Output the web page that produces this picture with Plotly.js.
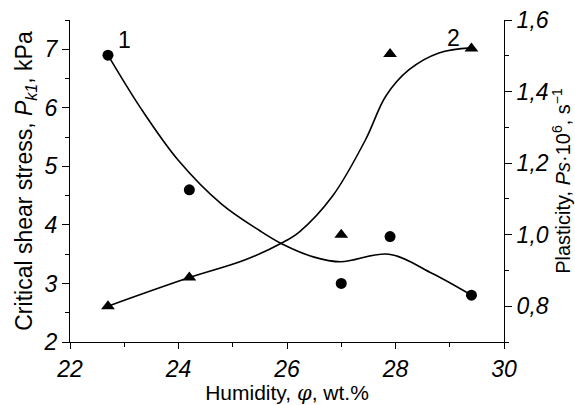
<!DOCTYPE html>
<html><head><meta charset="utf-8">
<script src="https://cdn.plot.ly/plotly-3.0.1.min.js"></script>
<style>html,body{margin:0;padding:0;background:#fff}#chart{width:575px;height:405px}</style>
</head><body><div id="chart"></div>
<script>
// Measured data
const humidity = [22.7, 24.2, 27.0, 27.9, 29.4];
const shearStress = [6.9, 4.6, 3.0, 3.8, 2.8];        // series 1, kPa (left axis)
const plasticity = [0.80, 0.88, 1.00, 1.505, 1.52];  // series 2, Ps*10^6 s^-1 (right axis)
// Fitted curves
const fit1X = [22.7, 23.3, 24.0, 24.8, 25.5, 25.92, 26.5, 26.99, 27.88, 28.68, 29.4];
const fit1Y = [6.9, 6.0, 5.1, 4.35, 3.9, 3.67, 3.45, 3.37, 3.50, 3.17, 2.8];
const fit2X = [22.7, 24.2, 25.22, 25.92, 26.23, 26.84, 27.45, 27.82, 28.25, 28.8, 29.4];
const fit2Y = [0.80, 0.88, 0.929, 0.978, 1.008, 1.108, 1.266, 1.387, 1.461, 1.508, 1.522];
const xTicks = [22, 24, 26, 28, 30];
const curveLabels = ['1', '2'];

const FONT = 'Liberation Sans, Arial, sans-serif';
const traces = [
  {x: fit1X, y: fit1Y, mode: 'lines', line: {color: '#000', width: 1.6, shape: 'spline', smoothing: 1}, yaxis: 'y', hoverinfo: 'skip'},
  {x: fit2X, y: fit2Y, mode: 'lines', line: {color: '#000', width: 1.6, shape: 'spline', smoothing: 1}, yaxis: 'y2', hoverinfo: 'skip'},
  {x: humidity, y: shearStress, mode: 'markers', marker: {symbol: 'circle', size: 11, color: '#000'}, yaxis: 'y'},
  {x: humidity, y: plasticity, mode: 'markers', marker: {symbol: 'triangle-up', size: 12, color: '#000'}, yaxis: 'y2'}
];
const tickFont = {family: FONT, size: 23, color: '#000', style: 'italic'};
const layout = {
  width: 575, height: 405,
  margin: {l: 70, r: 71, t: 20, b: 63},
  paper_bgcolor: '#fff', plot_bgcolor: '#fff',
  showlegend: false,
  separators: ', ',
  xaxis: {
    range: [22, 30], tickvals: xTicks, ticktext: xTicks.map(String),
    showline: true, linecolor: '#000', linewidth: 1, showgrid: false, zeroline: false,
    ticks: 'outside', ticklen: 6, tickcolor: '#000', tickfont: tickFont,
    minor: {dtick: 1, tick0: 22, ticks: 'outside', ticklen: 4, tickcolor: '#000'},
    title: {text: 'Humidity, <span style="font-family:DejaVu Serif"><i>φ</i></span>, wt.%', font: {family: FONT, size: 21, color: '#000'}, standoff: 3}
  },
  yaxis: {
    range: [2, 7.5], dtick: 1, tick0: 2,
    showline: true, linecolor: '#000', linewidth: 1, showgrid: false, zeroline: false,
    ticks: 'outside', ticklen: 7, tickcolor: '#000', tickfont: tickFont,
    minor: {dtick: 0.5, tick0: 2, ticks: 'outside', ticklen: 4, tickcolor: '#000'},
    title: {text: 'Critical shear stress, <i>P</i><sub><i>k1</i></sub>, kPa', font: {family: FONT, size: 23, color: '#000'}, standoff: 4}
  },
  yaxis2: {
    range: [0.7, 1.6], dtick: 0.2, tick0: 0, tickformat: '.1f', overlaying: 'y', side: 'right',
    showline: true, linecolor: '#000', linewidth: 1, showgrid: false, zeroline: false,
    ticks: 'outside', ticklen: 7, tickcolor: '#000', tickfont: tickFont,
    minor: {dtick: 0.1, tick0: 0, ticks: 'outside', ticklen: 4, tickcolor: '#000'},
    title: {text: 'Plasticity, <i>Ps</i>·10<sup>6</sup>, s<sup>−1</sup>', font: {family: FONT, size: 20, color: '#000'}, standoff: 6}
  },
  annotations: [
    {x: 23.01, y: 7.16, xref: 'x', yref: 'y', text: curveLabels[0], showarrow: false, font: {family: FONT, size: 23, color: '#000'}},
    {x: 29.06, y: 7.19, xref: 'x', yref: 'y', text: curveLabels[1], showarrow: false, font: {family: FONT, size: 23, color: '#000'}}
  ]
};
Plotly.newPlot('chart', traces, layout, {displayModeBar: false, staticPlot: true});
</script></body></html>
